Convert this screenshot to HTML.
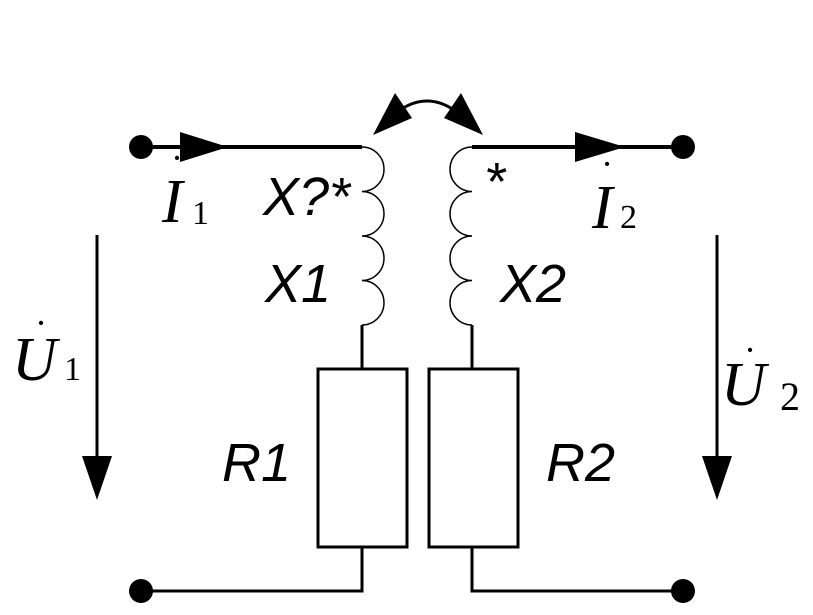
<!DOCTYPE html>
<html><head><meta charset="utf-8"><style>
html,body{margin:0;padding:0;background:#fff;}
svg{display:block;}
.s{font-family:"Liberation Sans",sans-serif;font-style:italic;font-size:54px;}
.r{font-family:"Liberation Serif",serif;}
</style></head><body>
<svg width="813" height="615" viewBox="0 0 813 615" xmlns="http://www.w3.org/2000/svg">
<g stroke="#000" fill="none">
<line x1="141" y1="147" x2="362" y2="147" stroke-width="4"/>
<line x1="472" y1="147" x2="683" y2="147" stroke-width="4"/>
<path d="M362 147 a22 22.25 0 0 1 0 44.5 a22 22.25 0 0 1 0 44.5 a22 22.25 0 0 1 0 44.5 a22 22.25 0 0 1 0 44.5" stroke-width="1.5"/>
<path d="M472 147 a22 22.25 0 0 0 0 44.5 a22 22.25 0 0 0 0 44.5 a22 22.25 0 0 0 0 44.5 a22 22.25 0 0 0 0 44.5" stroke-width="1.5"/>
<line x1="362" y1="325" x2="362" y2="369" stroke-width="3"/>
<line x1="472" y1="325" x2="472" y2="369" stroke-width="3"/>
<rect x="318" y="369" width="89" height="178" stroke-width="3"/>
<rect x="429" y="369" width="89" height="178" stroke-width="3"/>
<polyline points="362,547 362,591 141,591" stroke-width="3"/>
<polyline points="472,547 472,591 683,591" stroke-width="3"/>
<line x1="97" y1="235" x2="97" y2="470" stroke-width="3"/>
<line x1="717" y1="235" x2="717" y2="470" stroke-width="3"/>
<path d="M400 110 Q427 92 454 110" stroke-width="3"/>
</g>
<g fill="#000">
<circle cx="141" cy="147" r="12"/><circle cx="683" cy="147" r="12"/>
<circle cx="141" cy="591" r="12"/><circle cx="683" cy="591" r="12"/>
<polygon points="180,132 228,147 180,162"/>
<polygon points="575,132 625,147 575,162"/>
<polygon points="82,456 112,456 97,500"/>
<polygon points="702,456 732,456 717,500"/>
<polygon points="373,135 395,93 412,118"/>
<polygon points="483,135 461,93 444,118"/>
</g>
<text class="s" x="263" y="215">X?*</text>
<text class="s" x="484" y="200">*</text>
<text class="s" x="265" y="302">X1</text>
<text class="s" x="500" y="302">X2</text>
<text class="s" x="222" y="481">R1</text>
<text class="s" x="546" y="481">R2</text>
<g class="r" font-style="italic">
<text x="162" y="222" font-size="62">I</text><text x="172" y="170" font-size="36">·</text>
<text x="592" y="228" font-size="62">I</text><text x="602" y="176" font-size="36">·</text>
<text x="12" y="380" font-size="62">U</text><text x="36" y="335" font-size="36">·</text>
<text x="721" y="405" font-size="62">U</text><text x="745" y="362" font-size="36">·</text>
</g>
<g class="r">
<text x="192" y="224" font-size="34">1</text>
<text x="620" y="228" font-size="34">2</text>
<text x="64" y="380" font-size="34">1</text>
<text x="780" y="410" font-size="40">2</text>
</g>
</svg>
</body></html>
